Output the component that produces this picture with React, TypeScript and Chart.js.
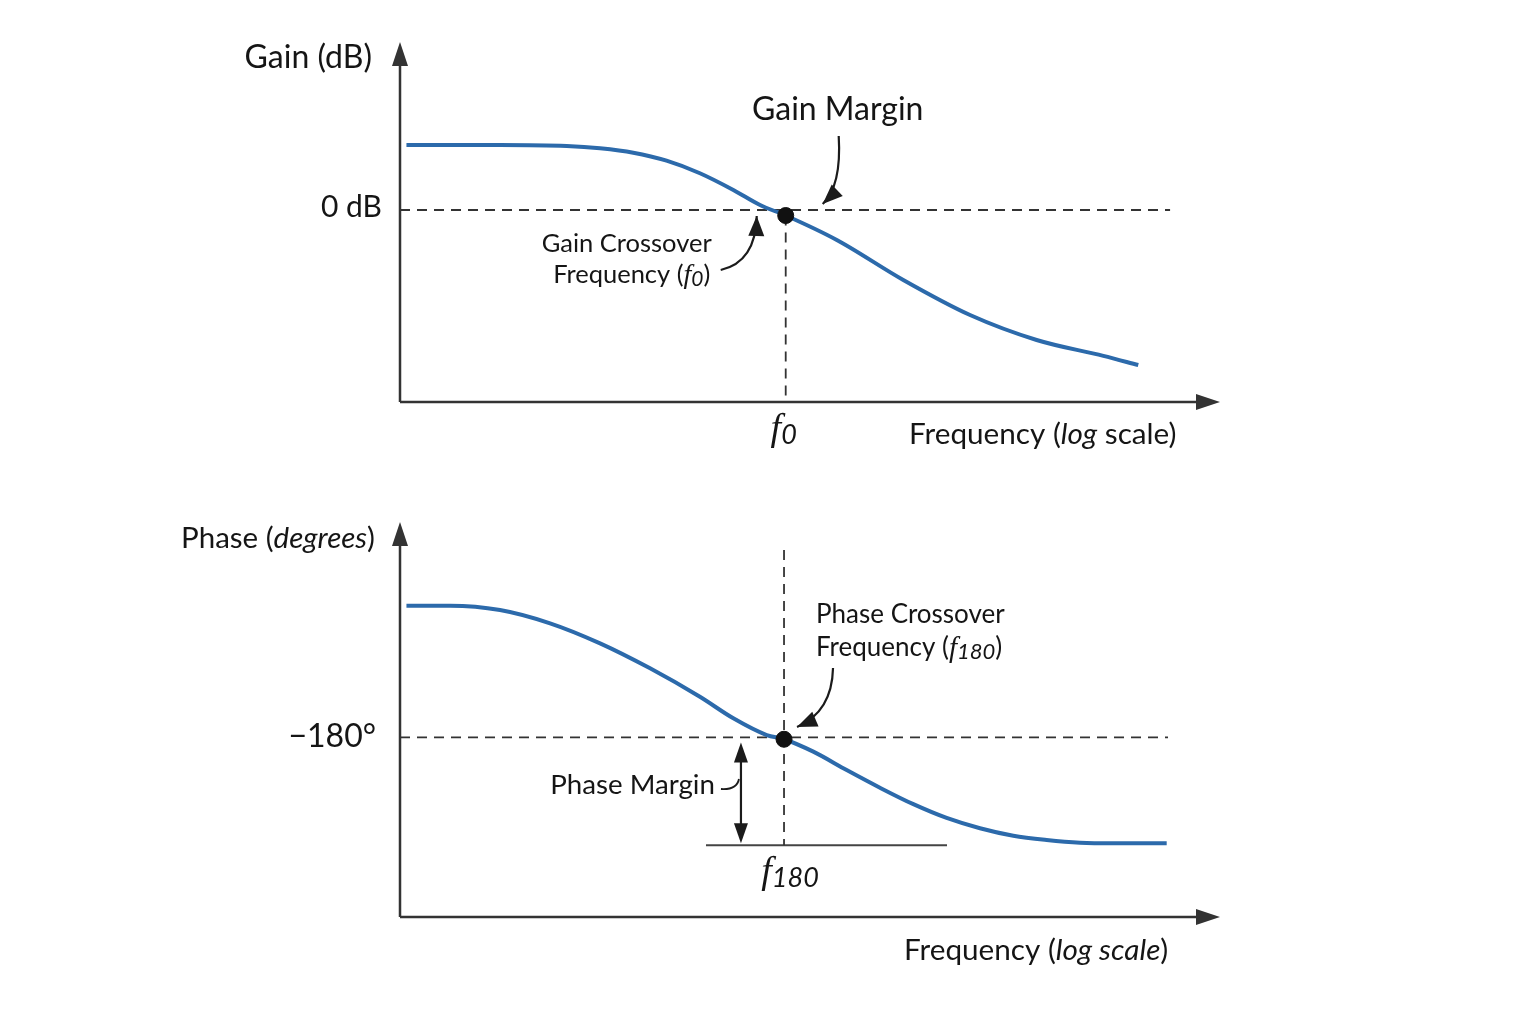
import React, { useEffect, useRef } from "react";
import { Chart, registerables } from "chart.js";

Chart.register(...registerables);

// ---------- data ----------
const FREQ_MIN = 1;
const FREQ_MAX = 15849;

const gainFreq = [1.08, 3.3, 7.32, 10.9, 16.2, 24.1, 35.9, 53.5, 73.6, 100, 184, 407, 903, 2000, 4436, 6730];
const gainDb = [13.54, 13.54, 13.33, 12.85, 11.94, 10.27, 7.65, 4.17, 1.04, -1.15, -6.25, -14.58, -21.88, -27.08, -30.4, -32.3];
const GAIN_MIN = -40;
const GAIN_MAX = 35;
const F0 = 100;
const GAIN_AT_F0 = -1.15;
const ZERO_DB = 0;
const ZERO_DB_END = 9840;

const phaseFreq = [1.08, 1.82, 3.3, 6.0, 10.9, 19.8, 35.9, 53.5, 79.7, 98, 139, 207, 308, 459, 683, 1017, 1514, 2254, 3357, 4998, 9450];
const phaseDeg = [-91.9, -91.9, -94.8, -103.7, -117.1, -133.8, -152.8, -167.2, -178.4, -181.2, -189.5, -201.8, -213.6, -224.6, -233.8, -240.7, -245.7, -248.5, -250.3, -250.7, -250.7];
const PHASE_MIN = -300;
const PHASE_MAX = -36;
const F180 = 98;
const PHASE_AT_F180 = -181.2;
const REF_PHASE = -180;
const REF_PHASE_END = 9600;
const F180_LINE_TOP = -54.7;
const PM_BASE = -252;
const PM_BASE_FROM = 38.6;
const PM_BASE_TO = 686;
const PM_ARROW_F = 58.6;

// ---------- styles ----------
const BLUE = "#2c6aab";
const INK = "#333333";
const TEXT = "#151515";
const SANS = "Lato";
const BOTTOM_TOP = 490;
const DASH = [10, 7];

type Run = { t: string; f: string; dy?: number };

function runs(ctx: CanvasRenderingContext2D, list: Run[], x: number, y: number, align: "left" | "center" | "right") {
  ctx.textBaseline = "middle";
  ctx.textAlign = "left";
  let w = 0;
  for (const r of list) {
    ctx.font = r.f;
    w += ctx.measureText(r.t).width;
  }
  let cx = align === "left" ? x : align === "center" ? x - w / 2 : x - w;
  for (const r of list) {
    ctx.font = r.f;
    ctx.fillText(r.t, cx, y + (r.dy || 0));
    cx += ctx.measureText(r.t).width;
  }
}

function head(ctx: CanvasRenderingContext2D, tx: number, ty: number, dx: number, dy: number, len = 18, hw = 7) {
  const l = Math.hypot(dx, dy) || 1;
  const ux = dx / l, uy = dy / l;
  const bx = tx - ux * len, by = ty - uy * len;
  ctx.beginPath();
  ctx.moveTo(tx, ty);
  ctx.lineTo(bx - uy * hw, by + ux * hw);
  ctx.lineTo(bx + uy * hw, by - ux * hw);
  ctx.closePath();
  ctx.fill();
}

function curvedArrow(ctx: CanvasRenderingContext2D, sx: number, sy: number, cx: number, cy: number, ex: number, ey: number) {
  ctx.beginPath();
  ctx.moveTo(sx, sy);
  ctx.quadraticCurveTo(cx, cy, ex, ey);
  ctx.stroke();
  head(ctx, ex, ey, ex - cx, ey - cy, 20, 8);
}

function drawAxes(ctx: CanvasRenderingContext2D, a: any, tipX: number, tipY: number) {
  ctx.strokeStyle = INK;
  ctx.fillStyle = INK;
  ctx.lineWidth = 2.5;
  ctx.beginPath();
  ctx.moveTo(a.left, a.bottom);
  ctx.lineTo(a.left, tipY + 10);
  ctx.moveTo(a.left, a.bottom);
  ctx.lineTo(tipX - 10, a.bottom);
  ctx.stroke();
  head(ctx, a.left, tipY, 0, -1, 24, 8);
  head(ctx, tipX, a.bottom, 1, 0, 24, 8);
}

const topDecor = {
  id: "topDecor",
  afterDatasetsDraw(chart: any) {
    const { ctx, chartArea: a, scales } = chart;
    const x = scales.x, y = scales.y;
    ctx.save();
    drawAxes(ctx, a, 1220, a.top);
    const y0 = y.getPixelForValue(ZERO_DB);
    const fx = x.getPixelForValue(F0);
    ctx.fillStyle = TEXT;
    runs(ctx, [{ t: "Gain (dB)", f: `32px ${SANS}` }], a.left - 28, 58, "right");
    runs(ctx, [{ t: "0 dB", f: `30px ${SANS}` }], a.left - 18, y0 - 3, "right");
    runs(ctx, [{ t: "Gain Margin", f: `32px ${SANS}` }], fx + 52, 110, "center");
    runs(ctx, [{ t: "Gain Crossover", f: `25.5px ${SANS}` }], fx - 159, 244, "center");
    runs(ctx, [
      { t: "Frequency (", f: `25.5px ${SANS}` },
      { t: "f", f: `italic 28px "Liberation Serif"`, dy: 1 },
      { t: "0", f: `italic 21px ${SANS}`, dy: 4 },
      { t: ")", f: `25.5px ${SANS}` },
    ], fx - 154, 275, "center");
    runs(ctx, [
      { t: "f", f: `italic 38px "Liberation Serif"` },
      { t: "0", f: `italic 27px ${SANS}`, dy: 5 },
    ], fx - 2, a.bottom + 28, "center");
    runs(ctx, [
      { t: "Frequency (", f: `29.7px ${SANS}` },
      { t: "log", f: `italic 29.7px ${SANS}` },
      { t: " scale)", f: `29.7px ${SANS}` },
    ], 909, a.bottom + 32, "left");
    // arrows
    ctx.strokeStyle = "#1b1b1b";
    ctx.fillStyle = "#1b1b1b";
    ctx.lineWidth = 2.2;
    curvedArrow(ctx, fx + 53, 136, fx + 56, 186, fx + 37, 204);
    curvedArrow(ctx, fx - 65, 270, fx - 30, 262, fx - 29, 216);
    ctx.restore();
  },
};

const bottomDecor = {
  id: "bottomDecor",
  afterDatasetsDraw(chart: any) {
    const { ctx, chartArea: a, scales } = chart;
    const x = scales.x, y = scales.y;
    const o = BOTTOM_TOP;
    ctx.save();
    drawAxes(ctx, a, 1220, a.top);
    const yr = y.getPixelForValue(REF_PHASE);
    const fx = x.getPixelForValue(F180);
    const ax = x.getPixelForValue(PM_ARROW_F);
    const yb = y.getPixelForValue(PM_BASE);
    ctx.fillStyle = TEXT;
    runs(ctx, [
      { t: "Phase (", f: `29.5px ${SANS}` },
      { t: "degrees", f: `italic 29.5px ${SANS}` },
      { t: ")", f: `29.5px ${SANS}` },
    ], a.left - 25, 538 - o, "right");
    runs(ctx, [{ t: "\u2212180\u00B0", f: `32px ${SANS}` }], a.left - 24, yr - 1, "right");
    runs(ctx, [{ t: "Phase Crossover", f: `26px ${SANS}` }], fx + 32, 615 - o, "left");
    runs(ctx, [
      { t: "Frequency (", f: `26px ${SANS}` },
      { t: "f", f: `italic 29px "Liberation Serif"`, dy: 1 },
      { t: "180", f: `italic 22px ${SANS}`, dy: 4 },
      { t: ")", f: `26px ${SANS}` },
    ], fx + 32, 648 - o, "left");
    runs(ctx, [{ t: "Phase Margin", f: `27.7px ${SANS}` }], ax - 26, 785 - o, "right");
    runs(ctx, [
      { t: "f", f: `italic 38px "Liberation Serif"` },
      { t: "180", f: `italic 27px ${SANS}`, dy: 5 },
    ], fx + 6, yb + 28, "center");
    runs(ctx, [
      { t: "Frequency (", f: `29.7px ${SANS}` },
      { t: "log scale", f: `italic 29.7px ${SANS}` },
      { t: ")", f: `29.7px ${SANS}` },
    ], 904, a.bottom + 33, "left");
    // arrows
    ctx.strokeStyle = "#1b1b1b";
    ctx.fillStyle = "#1b1b1b";
    ctx.lineWidth = 2.2;
    curvedArrow(ctx, fx + 49, 668 - o, fx + 48, 712 - o, fx + 13, 727 - o);
    // phase margin double arrow
    ctx.beginPath();
    ctx.moveTo(ax, yr + 20);
    ctx.lineTo(ax, yb - 20);
    ctx.stroke();
    head(ctx, ax, yr + 5, 0, -1, 20, 7);
    head(ctx, ax, yb - 2, 0, 1, 20, 7);
    // connector
    ctx.lineWidth = 1.8;
    ctx.beginPath();
    ctx.moveTo(ax - 20, 789 - o);
    ctx.quadraticCurveTo(ax - 4, 790 - o, ax - 2, 779 - o);
    ctx.stroke();
    ctx.restore();
  },
};

function baseOptions(padding: any, yMin: number, yMax: number): any {
  return {
    responsive: false,
    animation: false,
    events: [],
    layout: { padding },
    plugins: { legend: { display: false }, tooltip: { enabled: false } },
    scales: {
      x: { type: "logarithmic", min: FREQ_MIN, max: FREQ_MAX, display: false },
      y: { type: "linear", min: yMin, max: yMax, display: false },
    },
  };
}

export default function App() {
  const topRef = useRef<HTMLCanvasElement>(null);
  const botRef = useRef<HTMLCanvasElement>(null);

  useEffect(() => {
    const top = new Chart(topRef.current as HTMLCanvasElement, {
      type: "line",
      data: {
        datasets: [
          {
            label: "Gain crossover",
            data: [{ x: F0, y: GAIN_AT_F0 }],
            pointRadius: 8,
            pointBackgroundColor: "#111",
            pointBorderColor: "#111",
            showLine: false,
          },
          {
            label: "Gain",
            data: gainFreq.map((f, i) => ({ x: f, y: gainDb[i] })),
            borderColor: BLUE,
            borderWidth: 4,
            pointRadius: 0,
            cubicInterpolationMode: "monotone",
            fill: false,
          },
          {
            label: "0 dB",
            data: [{ x: FREQ_MIN, y: ZERO_DB }, { x: ZERO_DB_END, y: ZERO_DB }],
            borderColor: INK,
            borderWidth: 1.8,
            borderDash: DASH,
            pointRadius: 0,
          },
          {
            label: "f0",
            data: [{ x: F0, y: GAIN_AT_F0 }, { x: F0, y: GAIN_MIN }],
            borderColor: INK,
            borderWidth: 1.8,
            borderDash: DASH,
            pointRadius: 0,
          },
        ],
      } as any,
      options: baseOptions({ left: 400, right: 326, top: 42, bottom: 88 }, GAIN_MIN, GAIN_MAX),
      plugins: [topDecor],
    });

    const bot = new Chart(botRef.current as HTMLCanvasElement, {
      type: "line",
      data: {
        datasets: [
          {
            label: "Phase crossover",
            data: [{ x: F180, y: PHASE_AT_F180 }],
            pointRadius: 8,
            pointBackgroundColor: "#111",
            pointBorderColor: "#111",
            showLine: false,
          },
          {
            label: "Phase",
            data: phaseFreq.map((f, i) => ({ x: f, y: phaseDeg[i] })),
            borderColor: BLUE,
            borderWidth: 4,
            pointRadius: 0,
            cubicInterpolationMode: "monotone",
            fill: false,
          },
          {
            label: "-180",
            data: [{ x: FREQ_MIN, y: REF_PHASE }, { x: REF_PHASE_END, y: REF_PHASE }],
            borderColor: INK,
            borderWidth: 1.8,
            borderDash: DASH,
            pointRadius: 0,
          },
          {
            label: "f180",
            data: [{ x: F180, y: F180_LINE_TOP }, { x: F180, y: PM_BASE }],
            borderColor: INK,
            borderWidth: 1.8,
            borderDash: DASH,
            pointRadius: 0,
          },
          {
            label: "PM base",
            data: [{ x: PM_BASE_FROM, y: PM_BASE }, { x: PM_BASE_TO, y: PM_BASE }],
            borderColor: "#444",
            borderWidth: 2,
            pointRadius: 0,
          },
        ],
      } as any,
      options: baseOptions({ left: 400, right: 326, top: 32, bottom: 107 }, PHASE_MIN, PHASE_MAX),
      plugins: [bottomDecor],
    });

    return () => {
      top.destroy();
      bot.destroy();
    };
  }, []);

  return (
    <div style={{ position: "absolute", left: 0, top: 0, width: 1536, height: 1024, background: "#fff" }}>
      <canvas ref={topRef} width={1536} height={BOTTOM_TOP} style={{ position: "absolute", left: 0, top: 0 }} />
      <canvas
        ref={botRef}
        width={1536}
        height={1024 - BOTTOM_TOP}
        style={{ position: "absolute", left: 0, top: BOTTOM_TOP }}
      />
    </div>
  );
}
